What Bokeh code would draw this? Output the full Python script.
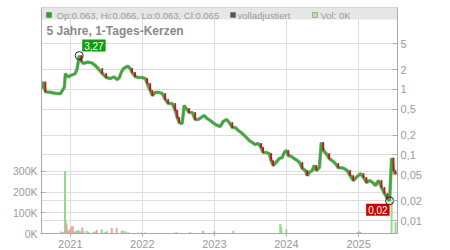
import pandas as pd
from bokeh.plotting import figure
from bokeh.models import (Range1d, LinearAxis, FixedTicker, Label, BoxAnnotation,
                          DatetimeTickFormatter, ColumnDataSource, Grid, LinearScale)
from bokeh.embed import file_html
from bokeh.resources import INLINE

# ---------------- data ----------------
price_dates = [
    "2020-08-08", "2020-08-15", "2020-08-28", "2020-09-22", "2020-10-17", "2020-11-11",
    "2020-11-22", "2020-12-02", "2020-12-07", "2020-12-12", "2020-12-22", "2021-01-01",
    "2021-01-26", "2021-02-05", "2021-02-15", "2021-02-26", "2021-03-08", "2021-03-23",
    "2021-04-02", "2021-04-22", "2021-05-07", "2021-05-22", "2021-06-12", "2021-07-02",
    "2021-07-22", "2021-08-11", "2021-08-26", "2021-09-06", "2021-09-16", "2021-09-26",
    "2021-10-11", "2021-10-21", "2021-10-31", "2021-11-10", "2021-11-25", "2021-12-11",
    "2021-12-31", "2022-01-16", "2022-01-26", "2022-02-10", "2022-02-21", "2022-03-08",
    "2022-03-23", "2022-04-12", "2022-04-27", "2022-05-12", "2022-06-02", "2022-06-17",
    "2022-06-27", "2022-07-07", "2022-07-22", "2022-08-01", "2022-08-11", "2022-08-26",
    "2022-09-11", "2022-09-26", "2022-10-11", "2022-10-26", "2022-11-10", "2022-11-25",
    "2022-12-11", "2023-01-01", "2023-01-16", "2023-01-31", "2023-02-15", "2023-03-03",
    "2023-03-18", "2023-04-02", "2023-04-17", "2023-05-02", "2023-05-17", "2023-06-02",
    "2023-06-12", "2023-06-27", "2023-07-12", "2023-07-27", "2023-08-11", "2023-08-26",
    "2023-09-05", "2023-09-21", "2023-10-06", "2023-10-16", "2023-10-26", "2023-11-10",
    "2023-11-25", "2023-12-11", "2023-12-21", "2024-01-01", "2024-01-11", "2024-01-26",
    "2024-02-10", "2024-02-26", "2024-03-07", "2024-03-22", "2024-04-06", "2024-04-16",
    "2024-04-26", "2024-05-11", "2024-05-21", "2024-06-01", "2024-06-16", "2024-06-26",
    "2024-07-06", "2024-07-21", "2024-08-05", "2024-08-20", "2024-09-05", "2024-09-20",
    "2024-10-05", "2024-10-20", "2024-11-04", "2024-11-19", "2024-12-05", "2024-12-20",
    "2025-01-11", "2025-01-26", "2025-02-10", "2025-02-26", "2025-03-13", "2025-03-28",
    "2025-04-12", "2025-04-27", "2025-05-12", "2025-05-27", "2025-06-07", "2025-06-17",
    "2025-06-27", "2025-07-07",
]
price_close = [
    1.03, 1.30, 0.92, 0.90, 0.87, 0.86,
    0.96, 1.08, 1.74, 1.65, 1.55, 1.62,
    1.74, 2.08, 3.27, 2.69, 2.48, 2.57,
    2.60, 2.52, 2.31, 2.08, 1.74, 1.52,
    1.46, 1.55, 1.41, 1.50, 1.80, 2.05,
    2.20, 2.25, 2.08, 1.81, 1.57, 1.52,
    1.52, 1.46, 1.23, 0.96, 0.805, 0.90,
    0.90, 0.865, 0.70, 0.61, 0.61, 0.476,
    0.372, 0.312, 0.30, 0.57, 0.51, 0.444,
    0.444, 0.347, 0.347, 0.372, 0.40, 0.36,
    0.335, 0.30, 0.281, 0.272, 0.324, 0.347,
    0.312, 0.262, 0.262, 0.236, 0.22, 0.198,
    0.185, 0.166, 0.155, 0.144, 0.15, 0.13,
    0.109, 0.109, 0.105, 0.082, 0.069, 0.077,
    0.088, 0.0915, 0.109, 0.117, 0.098, 0.095,
    0.088, 0.082, 0.077, 0.062, 0.058, 0.0486,
    0.054, 0.058, 0.069, 0.058, 0.064, 0.155,
    0.117, 0.105, 0.088, 0.082, 0.074, 0.064,
    0.064, 0.062, 0.058, 0.0486, 0.0408, 0.0453,
    0.052, 0.0453, 0.038, 0.0408, 0.038, 0.0342,
    0.0408, 0.0319, 0.0258, 0.0217, 0.020, 0.090,
    0.058, 0.050,
]

vol_dates = [
    "2020-11-14", "2020-11-26", "2020-12-05", "2020-12-08", "2020-12-13", "2020-12-18",
    "2020-12-25", "2020-12-30", "2021-01-08", "2021-01-13", "2021-01-25", "2021-02-02",
    "2021-02-11", "2021-02-19", "2021-03-03", "2021-03-08", "2021-03-25", "2021-04-06",
    "2021-04-28", "2021-05-07", "2021-05-15", "2021-06-09", "2021-06-27", "2021-07-05",
    "2021-07-30", "2021-08-24", "2021-09-18", "2021-09-26", "2021-10-08", "2021-10-21",
    "2021-12-11", "2021-12-27", "2022-01-14", "2022-06-22", "2022-09-01", "2022-11-05",
    "2023-01-01", "2023-04-07", "2023-12-01", "2023-12-06", "2024-01-01", "2024-12-26",
    "2025-01-06", "2025-01-11", "2025-06-17", "2025-07-07",
]
vol_values = [
    8000, 5000, 300000, 60000, 48000, 15000,
    10000, 20000, 33000, 33000, 8000, 12000,
    15000, 10000, 28000, 10000, 12000, 5000,
    5000, 8000, 15000, 18000, 5000, 10000,
    25000, 25000, 12000, 12000, 8000, 5000,
    3000, 3000, 3000, 5000, 5000, 12000,
    10000, 12000, 44000, 30000, 20000, 5000,
    8000, 5000, 150000, 55000,
]
vol_up = [
    True, True, True, True, False, False,
    True, False, False, False, True, True,
    True, False, False, True, True, True,
    True, False, False, True, True, True,
    False, False, True, True, True, False,
    True, True, True, False, False, True,
    True, True, True, True, True, True,
    True, False, True, True,
]

price_ticks = [0.01, 0.02, 0.05, 0.1, 0.2, 0.5, 1, 2, 5]
price_tick_labels = ["0,01", "0,02", "0,05", "0,1", "0,2", "0,5", "1", "2", "5"]
vol_ticks = [0, 100000, 200000, 300000]
vol_tick_labels = ["0K", "100K", "200K", "300K"]
year_ticks = ["2021-01-01", "2022-01-01", "2023-01-01", "2024-01-01", "2025-01-01"]

legend_ohlc = "Op:0.063, Hi:0.066, Lo:0.063, Cl:0.065"
title_text = "5 Jahre, 1-Tages-Kerzen"

# ---------------- styles ----------------
GREEN = "#3fa83a"
RED = "#c8101a"
GRAY_TXT = "#9a9a9a"
GRID = "#dddddd"
FONT = "Liberation Sans"

dts = pd.to_datetime(price_dates)
src = ColumnDataSource(dict(x=dts, y=price_close))

# red candles where the close dropped noticeably
red_x, red_top, red_bot = [], [], []
for i in range(1, len(price_close)):
    if price_close[i] < price_close[i - 1] * 0.88:
        red_x.append(dts[i])
        red_top.append(price_close[i - 1])
        red_bot.append(price_close[i])

p = figure(width=450, height=250, x_axis_type="datetime", y_axis_type="log",
           x_range=Range1d(pd.Timestamp("2020-08-08"), pd.Timestamp("2025-07-17")),
           y_range=Range1d(0.00635, 17.7),
           y_axis_location="right",
           output_backend="svg", toolbar_location=None,
           min_border_left=41, min_border_right=53, min_border_top=7, min_border_bottom=17)
p.background_fill_color = "white"
p.border_fill_color = "white"
p.outline_line_color = "#cccccc"

p.extra_y_ranges = {"vol": Range1d(0, 1093000)}
p.extra_y_scales = {"vol": LinearScale()}

# axes
yax = p.yaxis[0]
yax.ticker = FixedTicker(ticks=price_ticks)
yax.major_label_overrides = {t: l for t, l in zip(price_ticks, price_tick_labels)}
yax.minor_tick_line_color = None

left = LinearAxis(y_range_name="vol", ticker=FixedTicker(ticks=vol_ticks),
                  major_label_overrides={t: l for t, l in zip(vol_ticks, vol_tick_labels)})
left.minor_tick_line_color = None
p.add_layout(left, "left")

xax = p.xaxis[0]
xax.ticker = FixedTicker(ticks=[pd.Timestamp(d).value // 10**6 for d in year_ticks])
xax.formatter = DatetimeTickFormatter(years="%Y", months="%Y", days="%Y", hours="%Y",
                                      minutes="%Y", seconds="%Y", milliseconds="%Y",
                                      microseconds="%Y", hourmin="%Y", minsec="%Y")
xax.minor_tick_line_color = None

for ax in (yax, left, xax):
    ax.axis_line_color = "#aaaaaa"
    ax.major_tick_line_color = "#aaaaaa"
    ax.major_label_text_color = GRAY_TXT
    ax.major_label_text_font = FONT
    ax.major_label_text_font_size = "11px"
    ax.major_label_standoff = 3
left.major_label_text_font_size = "10.5px"
yax.major_tick_in = 5
yax.major_tick_out = 0
left.major_tick_in = 4
left.major_tick_out = 1
xax.major_tick_in = 0
xax.major_tick_out = 3

p.xgrid.grid_line_color = GRID
p.ygrid.grid_line_color = GRID
p.add_layout(Grid(dimension=1, ticker=FixedTicker(ticks=vol_ticks), y_range_name="vol",
                  grid_line_color=GRID))

# legend band
p.add_layout(BoxAnnotation(bottom=214, bottom_units="screen", fill_color="#e6e6e6",
                           fill_alpha=1, line_color=None, level="underlay"))

# volume bars
vsrc = ColumnDataSource(dict(x=pd.to_datetime(vol_dates), top=vol_values,
                             c=["#94d88c" if u else "#f2a0a8" for u in vol_up]))
p.vbar(x="x", top="top", bottom=0, width=5 * 86400000, color="c", source=vsrc,
       y_range_name="vol")

# price line
p.line("x", "y", source=src, line_color="#8a8a8a", line_width=3.6, line_alpha=0.6)
p.line("x", "y", source=src, line_color=GREEN, line_width=2.6)
p.vbar(x=red_x, top=red_top, bottom=red_bot, width=4 * 86400000, color=RED)

# markers for max / min
imax = price_close.index(max(price_close))
imin = price_close.index(min(price_close))
p.scatter([dts[imax], dts[imin]], [price_close[imax], price_close[imin]], size=8,
          fill_color=None, line_color="#222222", line_width=1)

p.add_layout(Label(x=dts[imax], y=price_close[imax], text=f"{price_close[imax]:.2f}".replace(".", ","),
                   x_offset=3, y_offset=4, text_align="left", text_baseline="bottom",
                   text_color="white", text_font=FONT, text_font_size="10px",
                   background_fill_color="#129a12", padding=2))
p.add_layout(Label(x=dts[imin], y=price_close[imin], text=f"{price_close[imin]:.2f}".replace(".", ","),
                   x_offset=0, y_offset=-3, text_align="right", text_baseline="top",
                   text_color="white", text_font=FONT, text_font_size="10px",
                   background_fill_color="#cc0000", padding=2))

# legend row
for (l, r, col) in [(5, 10, "#22aa22"), (189, 194, "#555555"), (271, 276, "#b4e4ac")]:
    p.add_layout(BoxAnnotation(left=l, right=r, bottom=216, top=221, left_units="screen",
                               right_units="screen", bottom_units="screen", top_units="screen",
                               fill_color=col, fill_alpha=1, line_color="#333333", line_width=1))
for (x, t) in [(15, legend_ohlc), (196, "volladjustiert"), (279, "Vol: 0K")]:
    p.add_layout(Label(x=x, y=218.5, x_units="screen", y_units="screen", text=t,
                       text_baseline="middle", text_color=GRAY_TXT, text_font=FONT,
                       text_font_size="9.5px"))

p.add_layout(Label(x=5, y=203, x_units="screen", y_units="screen", text=title_text,
                   text_baseline="middle", text_color="#8a8a8a", text_font=FONT,
                   text_font_size="12px", text_font_style="bold"))

open("out.html", "w").write(file_html(p, INLINE))
